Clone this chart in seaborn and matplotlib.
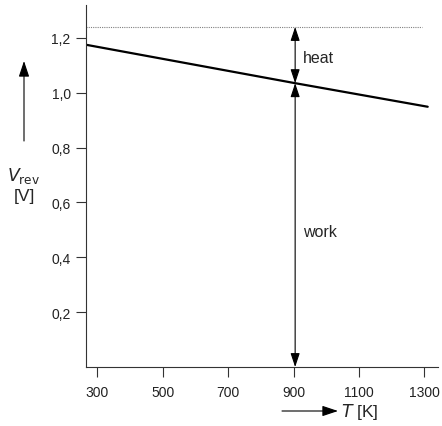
import numpy as np
import pandas as pd
import matplotlib
matplotlib.use("Agg")
import matplotlib.pyplot as plt
import seaborn as sns
from matplotlib.ticker import FuncFormatter

# data
temps = [266, 900, 1310]
v_rev = [1.175, 1.036, 0.949]
v_thermo = 1.24          # dotted line (thermoneutral voltage)
t_mark = 905             # position of the heat/work arrows
x_ticks = [300, 500, 700, 900, 1100, 1300]
y_ticks = [0.2, 0.4, 0.6, 0.8, 1.0, 1.2]

df = pd.DataFrame({"T": temps, "V": v_rev})

sns.set_style("ticks")
plt.rcParams["font.family"] = ["Liberation Sans", "DejaVu Sans"]

fig = plt.figure(figsize=(4.42, 4.27), dpi=100)
ax = fig.add_axes([0.1946, 0.138, 0.796, 0.848])

sns.lineplot(data=df, x="T", y="V", color="black", linewidth=1.6, ax=ax)
ax.plot([266, 1292], [v_thermo, v_thermo], color="grey", linestyle=(0, (1, 1)), linewidth=0.8)

ax.set_xlim(266, 1341)
ax.set_ylim(0, 1.32)
ax.set_xticks(x_ticks)
ax.set_yticks(y_ticks)
ax.yaxis.set_major_formatter(FuncFormatter(lambda v, p: f"{v:.1f}".replace(".", ",")))
ax.tick_params(axis="both", labelsize=10, length=7, width=0.8, color="#333333",
               labelcolor="#222222", direction="out")
ax.tick_params(axis="x", pad=6)
ax.tick_params(axis="y", pad=4)
for s in ["top", "right"]:
    ax.spines[s].set_visible(False)
for s in ["left", "bottom"]:
    ax.spines[s].set_linewidth(0.8)
    ax.spines[s].set_color("#333333")
ax.set_xlabel("")
ax.set_ylabel("")

# heat and work arrows
v_at_mark = np.interp(t_mark, temps, v_rev)
arrow = dict(arrowstyle="<|-|>,head_length=0.6,head_width=0.2", color="black", lw=0.8,
             mutation_scale=14, shrinkA=0, shrinkB=0)
ax.annotate("", xy=(t_mark, v_thermo), xytext=(t_mark, v_at_mark), arrowprops=arrow)
ax.annotate("", xy=(t_mark, v_at_mark), xytext=(t_mark, 0.0), arrowprops=arrow)
ax.text(t_mark + 25, 1.13, "heat", fontsize=11.5, va="center")
ax.text(t_mark + 25, 0.495, "work", fontsize=11.5, va="center")

# axis labels with arrows
head = dict(arrowstyle="-|>,head_length=0.6,head_width=0.2", color="black", lw=0.8,
            mutation_scale=16, shrinkA=0, shrinkB=0)
ax.annotate("", xy=(24 / 442, 1 - 62 / 427), xytext=(24 / 442, 1 - 142 / 427),
            xycoords="figure fraction", textcoords="figure fraction", arrowprops=head)
fig.text(24 / 442, 1 - 176 / 427, "$V_{\\mathrm{rev}}$", fontsize=12.5, ha="center", va="center",
         math_fontfamily="dejavusans")
fig.text(24 / 442, 1 - 196 / 427, "[V]", fontsize=12.5, ha="center", va="center")
ax.annotate("", xy=(338 / 442, 1 - 412 / 427), xytext=(282 / 442, 1 - 412 / 427),
            xycoords="figure fraction", textcoords="figure fraction", arrowprops=head)
fig.text(341 / 442, 1 - 412 / 427, "$T$ [K]", fontsize=12.5, ha="left", va="center",
         math_fontfamily="dejavusans")

fig.savefig("out.png", dpi=100)
